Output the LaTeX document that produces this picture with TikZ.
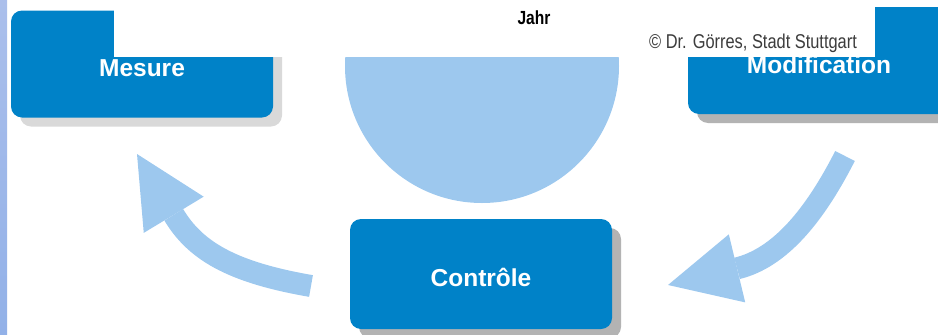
\documentclass[tikz,border=0pt]{standalone}
\usepackage{fontspec}
\setmainfont{Liberation Sans}
\newfontfamily\narrowfont{Liberation Sans}[FakeStretch=0.82]
\usetikzlibrary{positioning,arrows.meta,shadows}
\definecolor{boxblue}{HTML}{0082C8}
\definecolor{paleblue}{HTML}{9DC8EE}
\definecolor{lightshadow}{HTML}{D9D9D9}
\definecolor{darkshadow}{HTML}{B3B3B3}
\definecolor{notegray}{HTML}{3C3C3C}
\definecolor{striptop}{HTML}{ABBFEB}
\definecolor{stripbottom}{HTML}{92B1E8}
\tikzset{%
  stepbox/.style={
    rectangle,
    rounded corners=11pt,
    fill=boxblue,
    text=white,
    minimum width=262pt,
    minimum height=107pt,
    font=\fontsize{24.5}{28}\selectfont\bfseries,
    text height=25pt,
    text depth=0pt
  },
  shade box/.style={
    drop shadow={shadow xshift=9pt,shadow yshift=-9pt,opacity=1,fill=#1}
  },
  cycle arrow/.style={
    draw=paleblue,
    line width=22pt,
    -{Triangle[length=71pt,width=70pt,line width=0pt,fill=paleblue]}
  },
}

\begin{document}
\begin{tikzpicture}[x=1pt,y=-1pt]
        \useasboundingbox (0,0) rectangle (938,335);
        \clip (0,0) rectangle (938,335);
        \shade[top color=striptop,bottom color=stripbottom] (0,0) rectangle (7,335);

        \node[stepbox,shade box=lightshadow] (mes) at (142,64) {Mesure};
        \node[stepbox,shade box=darkshadow] (mod) at (819,60.5) {Modification};
        \node[stepbox,shade box=darkshadow,minimum height=110pt] (ctl) at (481,274) {Contrôle};

        \fill[paleblue] (482,66) circle[radius=137];

        \coordinate (ctlout) at (311,286);
        \coordinate (mesin) at (137,154);
        \coordinate (modout) at (845,156);
        \coordinate (ctlin) at (668,285);
        \draw[cycle arrow] (ctlout) .. controls (230,272) and (195,250) .. (mesin);
        \draw[cycle arrow] (modout) .. controls (815,215) and (780,258) .. (ctlin);

        \fill[white] (114,0) rectangle (875,57);
        \node[font=\narrowfont\fontsize{19}{22}\selectfont\bfseries] (jahr) at (534,18) {Jahr};
        \node[text=notegray,font=\narrowfont\fontsize{20}{24}\selectfont] (note) at (753,43) {© Dr. Görres, Stadt Stuttgart};
    \end{tikzpicture}
\end{document}
